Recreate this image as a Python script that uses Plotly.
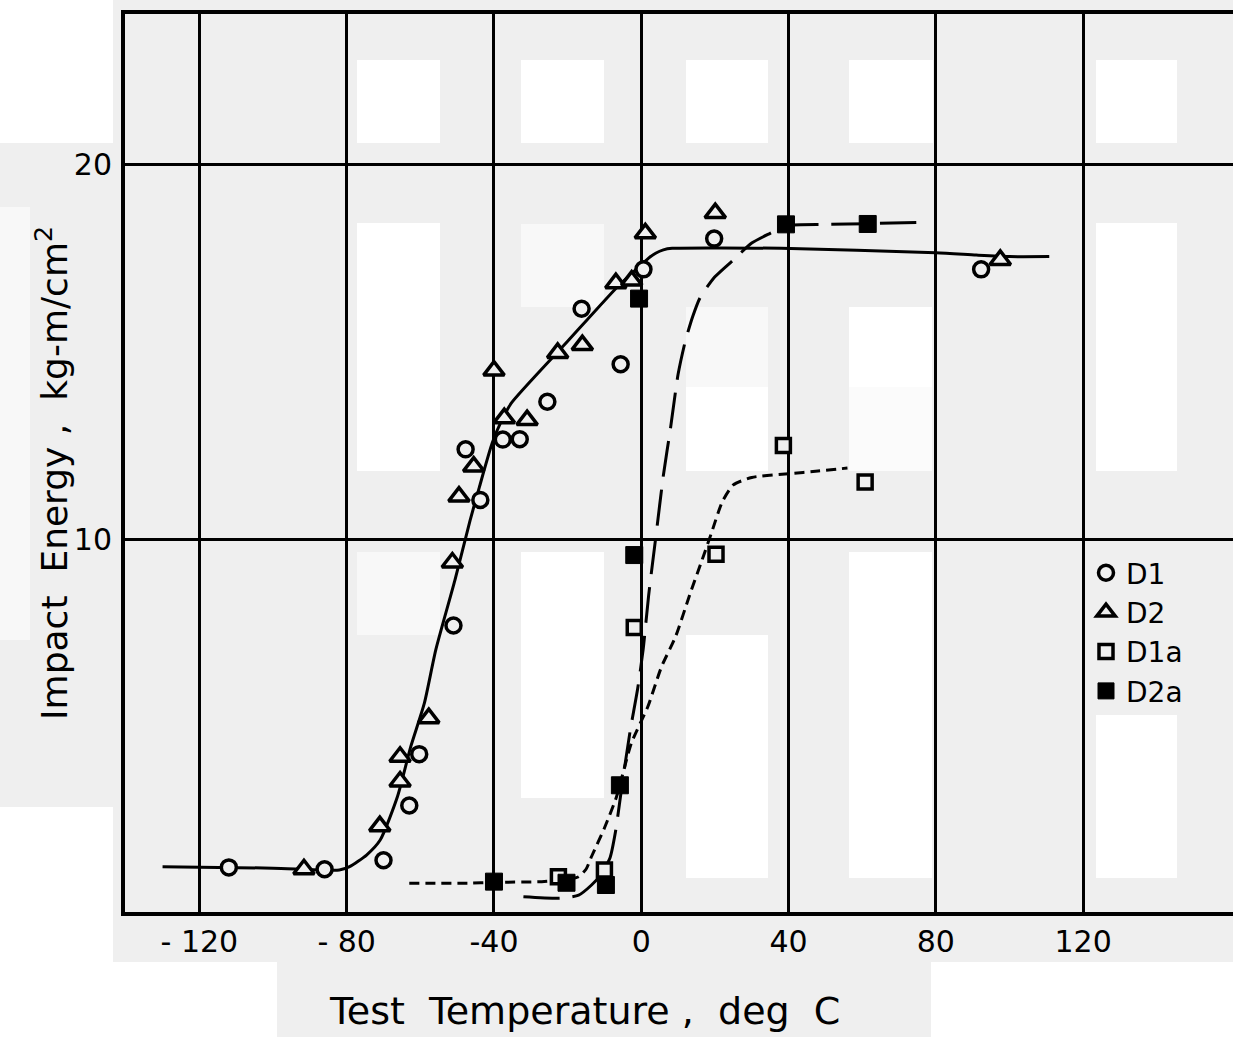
import plotly.graph_objects as go

# ---------------------------------------------------------------------------
# Charpy impact energy vs. test temperature, four steel conditions
# ---------------------------------------------------------------------------

# measured points (temperature in deg C, energy in kg-m/cm^2)
d1_temp = [-112, -86, -70, -63, -60.3, -51, -47.7, -43.7, -37.6, -33, -25.5,
           -16.2, -5.6, 0.6, 19.8, 92.3]
d1_energy = [1.25, 1.2, 1.44, 2.9, 4.27, 7.7, 12.4, 11.05, 12.66, 12.67, 13.67,
             16.15, 14.67, 17.2, 18.02, 17.2]

d2_temp = [-91.6, -71, -65.5, -65.5, -57.7, -51.3, -49.5, -45.5, -40, -37.2,
           -31, -22.7, -16, -6.9, -2.6, 1.1, 20.1, 97.5]
d2_energy = [1.2, 2.35, 3.54, 4.2, 5.23, 9.38, 11.14, 11.94, 14.5, 13.23,
             13.18, 14.97, 15.18, 16.83, 16.9, 18.16, 18.7, 17.45]

d1a_temp = [-22.5, -10, -1.9, 20.3, 38.6, 60.8]
d1a_energy = [1.0, 1.18, 7.65, 9.6, 12.5, 11.53]

d2a_temp = [-40, -20.3, -9.6, -5.8, -1.9, -0.6, 39.3, 61.5]
d2a_energy = [0.87, 0.84, 0.78, 3.44, 9.58, 16.42, 18.4, 18.41]

# hand-faired transition curves
fit_d1d2_temp = [-130, -100, -82, -79.2, -74.6, -70.9, -66.2, -62.6, -58.9,
                 -55.8, -50.6, -46.5, -44, -40.5, -38, -35.3, -20, -6.9, -3,
                 -0.6, 2, 3.9, 6, 8.4, 38, 80, 91, 100, 110.8]
fit_d1d2_energy = [1.27, 1.23, 1.18, 1.27, 1.58, 1.98, 3.14, 4.47, 5.63,
                   7.05, 8.91, 10.5, 11.38, 12.56, 13.15, 13.63, 15.28, 16.69,
                   17.05, 17.27, 17.5, 17.63, 17.72, 17.76, 17.76, 17.64,
                   17.58, 17.54, 17.54]

fit_d1a_temp = [-63, -47, -40, -27, -21, -17, -15, -13.5, -10, -6.7, -2.7,
                1.8, 5.5, 9.3, 13.3, 16.2, 19, 22, 25, 30, 40, 48, 56]
fit_d1a_energy = [0.83, 0.83, 0.85, 0.87, 0.92, 1.0, 1.2, 1.54, 2.3, 3.14,
                  4.56, 5.54, 6.6, 7.4, 8.56, 9.36, 10.15, 11.0, 11.45, 11.65,
                  11.75, 11.82, 11.9]

fit_d2a_temp = [-32, -22, -17, -13.5, -11, -8.5, -7, -5, -3, -1, 0.5, 2, 4,
                6, 8, 10, 12, 14, 16, 20, 25, 30, 35, 39.5, 50, 62, 75]
fit_d2a_energy = [0.47, 0.43, 0.51, 0.78, 1.05, 1.5, 2.2, 3.6, 4.9, 6.0,
                  7.05, 8.5, 10.1, 11.7, 13.0, 14.4, 15.3, 15.95, 16.45, 17.0,
                  17.45, 17.9, 18.16, 18.37, 18.4, 18.42, 18.45]

# axis ticks
x_ticks = [-120, -80, -40, 0, 40, 80, 120]
x_tick_text = ["- 120", "- 80", "-40", "0", "40", "80", "120"]
y_ticks = [10, 20]
y_tick_text = ["10", "20"]

# ---------------------------------------------------------------------------
W, H = 1233, 1037
M_L, M_R, M_T, M_B = 125, 0, 14, 125
PLOT_W = W - M_L - M_R
PLOT_H = H - M_T - M_B

INK = "#000000"
PAPER_GREY = "#efefef"
FONT = "DejaVu Sans"


def page_box(x0, y0, x1, y1, color):
    """Rectangle given in page pixels, placed in paper coordinates."""
    return dict(
        type="rect", xref="paper", yref="paper", layer="below",
        x0=(x0 - M_L) / PLOT_W, x1=(x1 - M_L) / PLOT_W,
        y0=(H - M_B - y1) / PLOT_H, y1=(H - M_B - y0) / PLOT_H,
        fillcolor=color, line=dict(width=0),
    )


WHITE = "#ffffff"
FAINT = "#f8f8f8"
paper_patches = [
    # page surround
    (0, 0, 113, 143, WHITE), (0, 807, 113, 1037, WHITE),
    (0, 962, 277, 1037, WHITE), (931, 962, 1233, 1037, WHITE),
    (0, 207, 30, 640, FAINT),
    # top row of panels
    (357, 60, 440, 143, WHITE), (521, 60, 604, 143, WHITE),
    (686, 60, 768, 143, WHITE), (849, 60, 933, 143, WHITE),
    (1096, 60, 1177, 143, WHITE),
    # middle row
    (357, 223, 440, 471, WHITE), (521, 224, 604, 307, FAINT),
    (686, 307, 768, 387, FAINT), (686, 387, 768, 471, WHITE),
    (849, 307, 932, 387, WHITE), (849, 387, 932, 471, "#fbfbfb"),
    (1096, 223, 1177, 471, WHITE),
    # bottom row
    (357, 552, 440, 635, FAINT), (521, 552, 604, 798, WHITE),
    (686, 635, 768, 878, WHITE), (849, 552, 932, 878, WHITE),
    (1096, 715, 1177, 878, WHITE),
]
shapes = [page_box(*p) for p in paper_patches]

fig = go.Figure()

# faired curves first so the symbols sit on top of them
curve_specs = [
    (fit_d1d2_temp, fit_d1d2_energy, "solid"),
    (fit_d2a_temp, fit_d2a_energy, "36px,13px"),
    (fit_d1a_temp, fit_d1a_energy, "10px,6px"),
]
for tx, ey, dash in curve_specs:
    fig.add_trace(go.Scatter(
        x=tx, y=ey, mode="lines", showlegend=False, hoverinfo="skip",
        line=dict(color=INK, width=3, dash=dash, shape="spline",
                  smoothing=0.6),
    ))

series = [
    ("D1", d1_temp, d1_energy, "circle", 15, PAPER_GREY, 3.5),
    ("D2", d2_temp, d2_energy, "triangle-up", 18, PAPER_GREY, 3.5),
    ("D1a", d1a_temp, d1a_energy, "square", 14, PAPER_GREY, 3.5),
    ("D2a", d2a_temp, d2a_energy, "square", 17, INK, 1),
]
for name, tx, ey, sym, size, fill, lw in series:
    fig.add_trace(go.Scatter(
        x=tx, y=ey, mode="markers", name=name,
        marker=dict(symbol=sym, size=size, color=fill,
                    line=dict(color=INK, width=lw)),
    ))

axis_font = dict(family=FONT, size=30, color=INK)

fig.update_layout(
    width=W, height=H,
    margin=dict(l=M_L, r=M_R, t=M_T, b=M_B, pad=0),
    paper_bgcolor=PAPER_GREY,
    plot_bgcolor="rgba(0,0,0,0)",
    shapes=shapes,
    showlegend=True,
    legend=dict(
        x=(1086 - M_L) / PLOT_W, y=(H - M_B - 548) / PLOT_H,
        xanchor="left", yanchor="top",
        bgcolor="rgba(0,0,0,0)", borderwidth=0,
        font=dict(family=FONT, size=28, color=INK),
        itemwidth=30, tracegroupgap=0,
    ),
    xaxis=dict(
        range=[-140.2, 160.7],
        tickmode="array", tickvals=x_ticks, ticktext=x_tick_text,
        tickfont=axis_font, ticks="", ticklabelstandoff=0,
        showgrid=True, gridcolor=INK, gridwidth=3,
        showline=True, linecolor=INK, linewidth=4, mirror=True,
        zeroline=False,
    ),
    yaxis=dict(
        range=[0.06, 24.01],
        tickmode="array", tickvals=y_ticks, ticktext=y_tick_text,
        tickfont=axis_font, ticks="", ticklabelstandoff=3,
        showgrid=True, gridcolor=INK, gridwidth=3,
        showline=True, linecolor=INK, linewidth=4, mirror=False,
        zeroline=False,
    ),
    annotations=[
        dict(
            text="Test  Temperature ,  deg  C",
            xref="paper", yref="paper",
            x=(584 - M_L) / PLOT_W, y=(H - M_B - 1011) / PLOT_H,
            xanchor="center", yanchor="middle", showarrow=False,
            font=dict(family=FONT, size=38, color=INK),
        ),
        dict(
            text="Impact  Energy ,  kg-m/cm<sup>2</sup>",
            xref="paper", yref="paper",
            x=(52 - M_L) / PLOT_W, y=(H - M_B - 473) / PLOT_H,
            xanchor="center", yanchor="middle", showarrow=False,
            textangle=-90,
            font=dict(family=FONT, size=36, color=INK),
        ),
    ],
)

fig.write_html("out.html")
